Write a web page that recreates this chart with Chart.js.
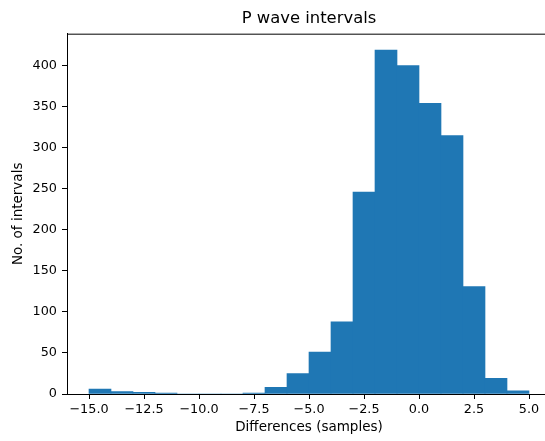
<!DOCTYPE html>
<html>
<head>
<meta charset="utf-8">
<script src="https://cdn.jsdelivr.net/npm/chart.js@4"></script>
<style>
  html,body{margin:0;padding:0;background:#fff;overflow:hidden;}
  #wrap{width:545px;height:441px;overflow:hidden;}
</style>
</head>
<body>
<div id="wrap"><canvas id="chart" width="560" height="441"></canvas></div>
<script>
// Histogram data (bin edges + counts)
const binEdges=[-15,-14,-13,-12,-11,-10,-9,-8,-7,-6,-5,-4,-3,-2,-1,0,1,2,3,4,5];
const counts=[6,3,2,1,0,0,0,1,8,25,51,88,246,419,400,354,315,131,19,4];
const xTicks=[-15,-12.5,-10,-7.5,-5,-2.5,0,2.5,5];
const yTicks=[0,50,100,150,200,250,300,350,400];

const barColor='#1f77b4';
const fontFam='"DejaVu Sans", sans-serif';

const points=counts.map((c,i)=>({x:(binEdges[i]+binEdges[i+1])/2,y:c}));

// top / right spines
const framePlugin={
  id:'frame',
  afterDraw(chart){
    const {ctx,chartArea:a}=chart;
    ctx.save();
    ctx.strokeStyle='#000';
    ctx.lineWidth=1;
    ctx.beginPath();
    ctx.moveTo(a.left,a.top+0.5);
    ctx.lineTo(a.right,a.top+0.5);
    ctx.moveTo(a.right-0.5,a.top);
    ctx.lineTo(a.right-0.5,a.bottom);
    ctx.stroke();
    ctx.restore();
  }
};

new Chart(document.getElementById('chart'),{
  type:'bar',
  data:{datasets:[{data:points,backgroundColor:barColor,borderWidth:0,barPercentage:1,categoryPercentage:1}]},
  options:{
    responsive:false,
    animation:false,
    layout:{padding:{right:9}},
    plugins:{
      legend:{display:false},
      tooltip:{enabled:false},
      title:{display:true,text:'P wave intervals',color:'#000',fullSize:false,
        font:{family:fontFam,size:16.4,weight:'normal',lineHeight:1.2},
        padding:{top:9,bottom:5}}
    },
    scales:{
      x:{
        type:'linear',min:-16,max:6,offset:false,
        afterBuildTicks:s=>{s.ticks=xTicks.map(v=>({value:v}));},
        afterFit:s=>{s.height=47;},
        grid:{display:true,drawOnChartArea:false,offset:false,tickLength:5,tickColor:'#000'},
        border:{display:true,color:'#000',width:1},
        ticks:{color:'#000',padding:3,maxRotation:0,autoSkip:false,
          font:{family:fontFam,size:12.8},
          callback:v=>v.toFixed(1).replace('-','\u2212')},
        title:{display:true,text:'Differences (samples)',color:'#000',
          font:{family:fontFam,size:13.5},padding:{top:4,bottom:5}}
      },
      y:{
        type:'linear',min:0,max:439,
        afterBuildTicks:s=>{s.ticks=yTicks.map(v=>({value:v}));},
        afterFit:s=>{s.width=67;},
        grid:{display:true,drawOnChartArea:false,tickLength:5,tickColor:'#000'},
        border:{display:true,color:'#000',width:1},
        ticks:{color:'#000',padding:5,autoSkip:false,
          font:{family:fontFam,size:12.8},
          callback:v=>String(v)},
        title:{display:true,text:'No. of intervals',color:'#000',
          font:{family:fontFam,size:13.5},padding:{top:10,bottom:4}}
      }
    }
  },
  plugins:[framePlugin]
});
</script>
</body>
</html>
